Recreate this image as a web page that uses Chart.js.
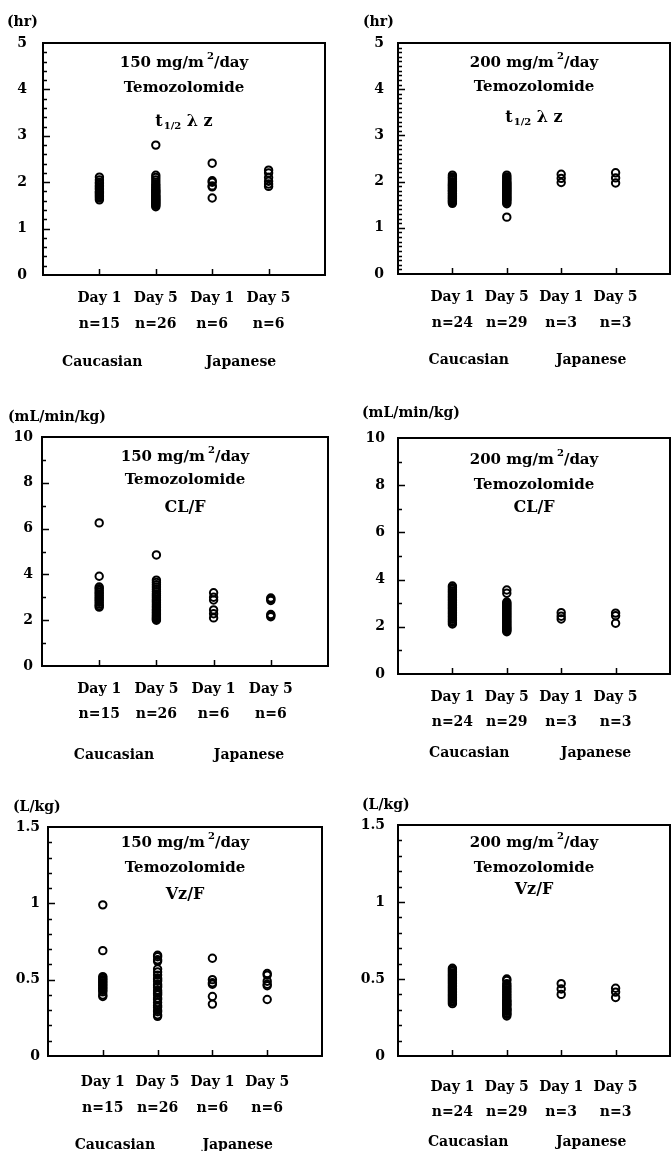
<!DOCTYPE html>
<html>
<head>
<meta charset="utf-8">
<script src="https://cdn.jsdelivr.net/npm/chart.js@4.4.1/dist/chart.umd.min.js"></script>
<style>
  html, body { margin: 0; padding: 0; background: #fff; }
  body { width: 671px; height: 1151px; position: relative; overflow: hidden; }
  canvas { position: absolute; }
</style>
</head>
<body>
<canvas id="p1"></canvas>
<canvas id="p2"></canvas>
<canvas id="p3"></canvas>
<canvas id="p4"></canvas>
<canvas id="p5"></canvas>
<canvas id="p6"></canvas>
<script>
// x categories
const categories = ["Day 1", "Day 5", "Day 1", "Day 5"];
const nLabels150 = ["n=15", "n=26", "n=6", "n=6"];
const nLabels200 = ["n=24", "n=29", "n=3", "n=3"];
const groups = ["Caucasian", "Japanese"];

// t1/2 λz (hr), 150 mg/m2/day : Caucasian D1, D5, Japanese D1, D5
const halfLife150 = [
  [2.11, 2.05, 2.0, 1.97, 1.93, 1.9, 1.87, 1.84, 1.8, 1.78, 1.75, 1.72, 1.69, 1.66, 1.62],
  [2.8, 2.15, 2.1, 2.05, 2.0, 1.95, 1.92, 1.88, 1.85, 1.82, 1.8, 1.78, 1.75, 1.72, 1.7, 1.68, 1.66, 1.64, 1.62, 1.6, 1.58, 1.56, 1.54, 1.52, 1.5, 1.47],
  [2.41, 2.03, 2.0, 1.92, 1.9, 1.66],
  [2.26, 2.2, 2.1, 2.02, 1.96, 1.91],
];
// t1/2 λz (hr), 200 mg/m2/day
const halfLife200 = [
  [2.14, 2.1, 2.07, 2.04, 2.0, 1.97, 1.94, 1.92, 1.9, 1.87, 1.85, 1.82, 1.8, 1.78, 1.75, 1.73, 1.7, 1.68, 1.65, 1.63, 1.6, 1.58, 1.56, 1.53],
  [2.14, 2.1, 2.07, 2.04, 2.01, 1.98, 1.96, 1.94, 1.92, 1.9, 1.88, 1.86, 1.84, 1.82, 1.8, 1.78, 1.76, 1.74, 1.72, 1.7, 1.68, 1.66, 1.64, 1.62, 1.6, 1.58, 1.55, 1.52, 1.23],
  [2.16, 2.07, 1.98],
  [2.19, 2.08, 1.97],
];
// CL/F (mL/min/kg), 150 mg/m2/day
const clearance150 = [
  [6.25, 3.92, 3.45, 3.38, 3.3, 3.22, 3.15, 3.08, 3.0, 2.93, 2.86, 2.78, 2.7, 2.63, 2.57],
  [4.85, 3.75, 3.65, 3.55, 3.45, 3.35, 3.25, 3.15, 3.08, 3.0, 2.92, 2.85, 2.78, 2.7, 2.62, 2.55, 2.48, 2.42, 2.36, 2.3, 2.24, 2.18, 2.13, 2.08, 2.04, 2.0],
  [3.2, 3.0, 2.88, 2.45, 2.28, 2.1],
  [2.97, 2.92, 2.86, 2.25, 2.2, 2.15],
];
// CL/F (mL/min/kg), 200 mg/m2/day
const clearance200 = [
  [3.73, 3.66, 3.59, 3.52, 3.45, 3.38, 3.31, 3.24, 3.17, 3.1, 3.03, 2.96, 2.89, 2.82, 2.75, 2.68, 2.61, 2.54, 2.47, 2.4, 2.33, 2.26, 2.19, 2.12],
  [3.56, 3.42, 3.05, 3.0, 2.95, 2.9, 2.85, 2.8, 2.75, 2.7, 2.65, 2.6, 2.55, 2.5, 2.45, 2.4, 2.35, 2.3, 2.25, 2.2, 2.15, 2.1, 2.05, 2.0, 1.96, 1.92, 1.88, 1.84, 1.79],
  [2.6, 2.45, 2.33],
  [2.58, 2.47, 2.15],
];
// Vz/F (L/kg), 150 mg/m2/day
const volume150 = [
  [0.99, 0.69, 0.52, 0.51, 0.5, 0.49, 0.48, 0.47, 0.46, 0.45, 0.44, 0.43, 0.42, 0.4, 0.39],
  [0.66, 0.65, 0.63, 0.62, 0.57, 0.55, 0.53, 0.51, 0.5, 0.49, 0.47, 0.46, 0.45, 0.43, 0.42, 0.41, 0.4, 0.38, 0.37, 0.35, 0.33, 0.32, 0.3, 0.29, 0.27, 0.26],
  [0.64, 0.5, 0.48, 0.47, 0.39, 0.34],
  [0.54, 0.53, 0.49, 0.47, 0.46, 0.37],
];
// Vz/F (L/kg), 200 mg/m2/day
const volume200 = [
  [0.57, 0.56, 0.55, 0.54, 0.53, 0.52, 0.51, 0.5, 0.49, 0.48, 0.47, 0.46, 0.45, 0.44, 0.43, 0.42, 0.41, 0.4, 0.39, 0.38, 0.37, 0.36, 0.35, 0.34],
  [0.5, 0.49, 0.47, 0.46, 0.45, 0.44, 0.43, 0.42, 0.41, 0.4, 0.39, 0.38, 0.37, 0.36, 0.355, 0.35, 0.34, 0.335, 0.33, 0.32, 0.31, 0.305, 0.3, 0.295, 0.29, 0.28, 0.275, 0.27, 0.26],
  [0.47, 0.435, 0.4],
  [0.44, 0.415, 0.38],
];

const FONT = "'DejaVu Serif', serif";

// panel layout: box = canvas [x, y, w, h], plot = [left, top, right, bottom] in page px
const panels = [
  { id: "p1", box: [0, 0, 335, 375], plot: [43, 43, 325, 275], ymax: 5, step: 1, minor: 0.2,
    unit: "(hr)", unitAt: [7, 22], yPad: 16, xPad: 10, lh: 26, dose: "150", param: "t12",
    values: halfLife150, n: nLabels150, titleDy: [20, 45, 79], groupX: [1.05, 3.51], groupDy: 87 },
  { id: "p2", box: [335, 0, 336, 375], plot: [398, 43, 670, 274], ymax: 5, step: 1, minor: 0.1,
    unit: "(hr)", unitAt: [363, 22], yPad: 14, xPad: 10, lh: 26, dose: "200", param: "t12",
    values: halfLife200, n: nLabels200, titleDy: [20, 44, 75], groupX: [1.3, 3.55], groupDy: 86 },
  { id: "p3", box: [0, 375, 335, 395], plot: [42, 437, 328, 666], ymax: 10, step: 2, minor: 1,
    unit: "(mL/min/kg)", unitAt: [8, 417], yPad: 9, xPad: 11, lh: 25, dose: "150", param: "CL/F",
    values: clearance150, n: nLabels150, titleDy: [20, 43, 71], groupX: [1.26, 3.62], groupDy: 89 },
  { id: "p4", box: [335, 375, 336, 395], plot: [398, 438, 670, 674], ymax: 10, step: 2, minor: 1,
    unit: "(mL/min/kg)", unitAt: [362, 413], yPad: 13, xPad: 11, lh: 25, dose: "200", param: "CL/F",
    values: clearance200, n: nLabels200, titleDy: [22, 47, 70], groupX: [1.31, 3.64], groupDy: 79 },
  { id: "p5", box: [0, 770, 335, 381], plot: [48, 827, 322, 1056], ymax: 1.5, step: 0.5, minor: 0.1,
    unit: "(L/kg)", unitAt: [13, 807], yPad: 8, xPad: 13, lh: 26, dose: "150", param: "Vz/F",
    values: volume150, n: nLabels150, titleDy: [16, 41, 68], groupX: [1.22, 3.46], groupDy: 89 },
  { id: "p6", box: [335, 770, 336, 381], plot: [398, 825, 670, 1056], ymax: 1.5, step: 0.5, minor: 0.1,
    unit: "(L/kg)", unitAt: [362, 805], yPad: 13, xPad: 19, lh: 25, dose: "200", param: "Vz/F",
    values: volume200, n: nLabels200, titleDy: [18, 43, 65], groupX: [1.29, 3.55], groupDy: 86 },
];

// dose line: "150 mg/m" + raised "2" + "/day"
function drawDose(ctx, dose, cx, y) {
  const main = dose + " mg/m";
  const big = "bold 15px " + FONT;
  const sup = "bold 10px " + FONT;
  ctx.font = big;
  const w1 = ctx.measureText(main).width;
  const w3 = ctx.measureText("/day").width;
  ctx.font = sup;
  const w2 = ctx.measureText("2").width;
  const gap = 3;
  let x = cx - (w1 + gap + w2 + w3) / 2;
  ctx.textAlign = "left";
  ctx.font = big;
  ctx.fillText(main, x, y);
  x += w1 + gap;
  ctx.font = sup;
  ctx.fillText("2", x, y - 7);
  x += w2;
  ctx.font = big;
  ctx.fillText("/day", x, y);
}

// parameter line, t1/2 gets a subscript
function drawParam(ctx, param, cx, y) {
  ctx.textAlign = "left";
  if (param !== "t12") {
    ctx.font = "bold 16px " + FONT;
    const w = ctx.measureText(param).width;
    ctx.fillText(param, cx - w / 2, y);
    return;
  }
  const big = "bold 16px " + FONT;
  const small = "bold 10px " + FONT;
  ctx.font = big;
  const wt = ctx.measureText("t").width;
  const wr = ctx.measureText(" \u03bb z").width;
  ctx.font = small;
  const ws = ctx.measureText("1/2").width;
  let x = cx - (wt + 1 + ws + wr) / 2;
  ctx.font = big;
  ctx.fillText("t", x, y);
  x += wt + 1;
  ctx.font = small;
  ctx.fillText("1/2", x, y + 4);
  x += ws;
  ctx.font = big;
  ctx.fillText(" \u03bb z", x, y);
}

function decorPlugin(p) {
  return {
    id: "decor",
    beforeDatasetsDraw(chart) {
      const { ctx, chartArea: a, scales } = chart;
      ctx.save();
      ctx.strokeStyle = "#000";
      ctx.lineWidth = 2;
      ctx.strokeRect(a.left, a.top, a.right - a.left, a.bottom - a.top);
      // inward ticks on y
      ctx.lineWidth = 1.5;
      ctx.beginPath();
      const count = Math.round(p.ymax / p.minor);
      for (let i = 1; i < count; i++) {
        const v = i * p.minor;
        const y = Math.round(scales.y.getPixelForValue(v)) + 0.5;
        const major = Math.abs(v / p.step - Math.round(v / p.step)) < 1e-6;
        ctx.moveTo(a.left, y);
        ctx.lineTo(a.left + (major ? 7 : 4), y);
      }
      // inward ticks on x at each category
      categories.forEach((c, i) => {
        const x = Math.round(scales.x.getPixelForValue(i + 1)) + 0.5;
        ctx.moveTo(x, a.bottom);
        ctx.lineTo(x, a.bottom - 6);
      });
      ctx.stroke();
      ctx.restore();
    },
    afterDraw(chart) {
      const { ctx, chartArea: a, scales } = chart;
      const cx = (a.left + a.right) / 2;
      ctx.save();
      ctx.fillStyle = "#000";
      ctx.textBaseline = "middle";
      // unit label
      ctx.font = "bold 14px " + FONT;
      ctx.textAlign = "left";
      ctx.fillText(p.unit, p.unitAt[0] - p.box[0], p.unitAt[1] - p.box[1]);
      // panel titles
      drawDose(ctx, p.dose, cx, a.top + p.titleDy[0]);
      ctx.font = "bold 15px " + FONT;
      ctx.textAlign = "center";
      ctx.fillText("Temozolomide", cx, a.top + p.titleDy[1]);
      drawParam(ctx, p.param, cx, a.top + p.titleDy[2]);
      // group labels
      ctx.font = "bold 14px " + FONT;
      ctx.textAlign = "center";
      groups.forEach((g, i) => {
        ctx.fillText(g, scales.x.getPixelForValue(p.groupX[i]), a.bottom + p.groupDy);
      });
      ctx.restore();
    },
  };
}

panels.forEach((p) => {
  const canvas = document.getElementById(p.id);
  const [bx, by, bw, bh] = p.box;
  const [pl, pt, pr, pb] = p.plot;
  canvas.width = bw;
  canvas.height = bh;
  canvas.style.left = bx + "px";
  canvas.style.top = by + "px";
  canvas.style.width = bw + "px";
  canvas.style.height = bh + "px";

  const points = [];
  p.values.forEach((vals, i) => {
    vals.forEach((v) => points.push({ x: i + 1, y: v }));
  });

  new Chart(canvas, {
    type: "scatter",
    data: {
      datasets: [
        {
          data: points,
          pointStyle: "circle",
          pointRadius: 3.7,
          pointHoverRadius: 3.7,
          pointBorderWidth: 2,
          borderColor: "#000",
          backgroundColor: "rgba(0,0,0,0)",
        },
      ],
    },
    options: {
      responsive: false,
      animation: false,
      events: [],
      layout: { autoPadding: false, padding: { left: 0, top: pt - by, right: bx + bw - pr, bottom: 0 } },
      plugins: { legend: { display: false }, tooltip: { enabled: false } },
      scales: {
        x: {
          type: "linear",
          min: 0,
          max: 5,
          afterBuildTicks: (s) => {
            s.ticks = categories.map((c, i) => ({ value: i + 1 }));
          },
          afterFit: (s) => {
            s.height = by + bh - pb;
            s.paddingLeft = 0;
            s.paddingRight = 0;
          },
          grid: { display: false, drawTicks: false },
          border: { display: false },
          ticks: {
            autoSkip: false,
            maxRotation: 0,
            padding: p.xPad,
            color: "#000",
            font: { family: FONT, size: 14, weight: "bold", lineHeight: p.lh + "px" },
            callback: (v) => [categories[v - 1], p.n[v - 1]],
          },
        },
        y: {
          min: 0,
          max: p.ymax,
          afterFit: (s) => {
            s.width = pl - bx;
          },
          grid: { display: false, drawTicks: false },
          border: { display: false },
          ticks: {
            stepSize: p.step,
            padding: p.yPad,
            color: "#000",
            font: { family: FONT, size: 14, weight: "bold" },
            callback: (v) => String(v),
          },
        },
      },
    },
    plugins: [decorPlugin(p)],
  });
});
</script>
</body>
</html>
